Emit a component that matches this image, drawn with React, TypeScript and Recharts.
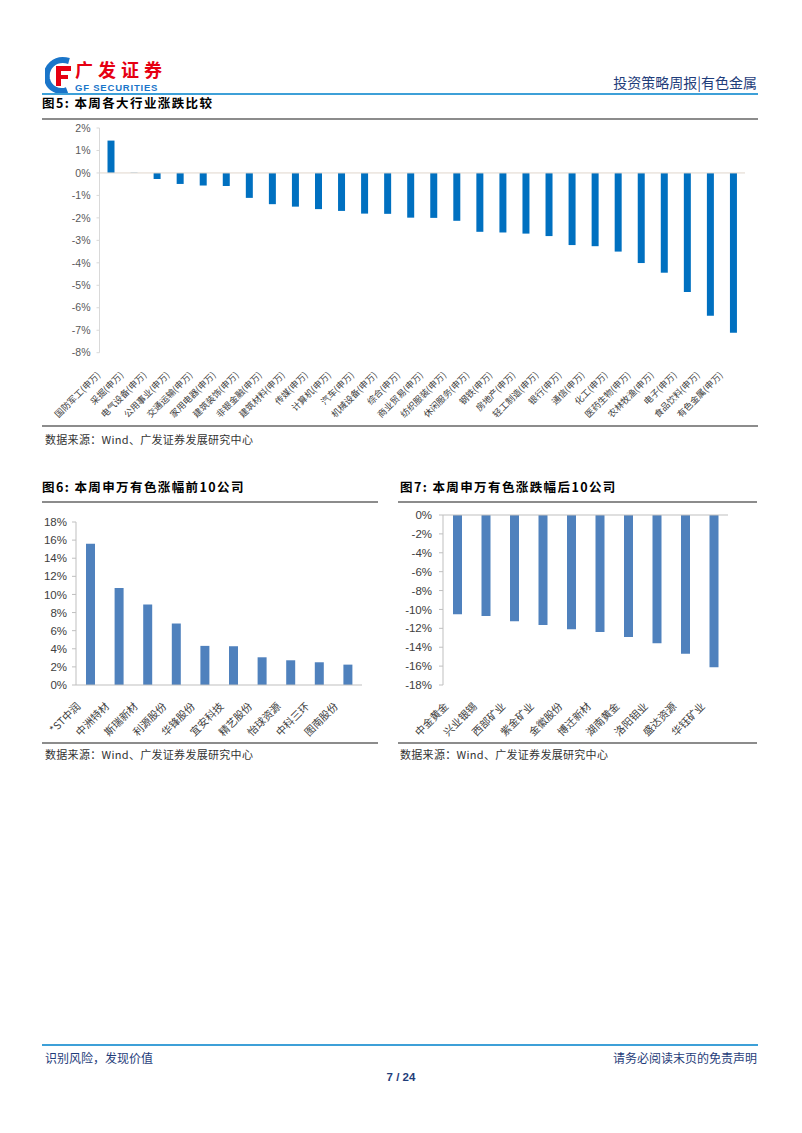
import React from "react";
import { BarChart, Bar, XAxis, YAxis, ReferenceLine } from "recharts";

// 图5 本周各大行业涨跌比较 (%)
const industryNames = [
  "国防军工", "采掘", "电气设备", "公用事业", "交通运输", "家用电器", "建筑装饰",
  "非银金融", "建筑材料", "传媒", "计算机", "汽车", "机械设备", "综合",
  "商业贸易", "纺织服装", "休闲服务", "钢铁", "房地产", "轻工制造", "银行",
  "通信", "化工", "医药生物", "农林牧渔", "电子", "食品饮料", "有色金属",
];
const industryChange = [
  1.44, 0.01, -0.27, -0.49, -0.56, -0.58, -1.11, -1.39, -1.5, -1.61, -1.69, -1.81,
  -1.82, -1.99, -2.0, -2.13, -2.62, -2.65, -2.7, -2.81, -3.21, -3.26, -3.5, -4.01,
  -4.44, -5.3, -6.36, -7.11,
];
const industryTicks = [-8, -7, -6, -5, -4, -3, -2, -1, 0, 1, 2];

// 图6 涨幅前10
const topNames = [
  "*ST中润", "中洲特材", "斯瑞新材", "利源股份", "华锋股份",
  "宜安科技", "精艺股份", "怡球资源", "中科三环", "图南股份",
];
const topChange = [15.6, 10.7, 8.89, 6.79, 4.32, 4.28, 3.06, 2.73, 2.51, 2.25];
const topTicks = [0, 2, 4, 6, 8, 10, 12, 14, 16, 18];

// 图7 跌幅后10
const bottomNames = [
  "中金黄金", "兴业银锡", "西部矿业", "紫金矿业", "金徽股份",
  "博迁新材", "湖南黄金", "洛阳钼业", "盛达资源", "华钰矿业",
];
const bottomChange = [-10.52, -10.7, -11.26, -11.65, -12.11, -12.39, -12.92, -13.59, -14.68, -16.13];
const bottomTicks = [-18, -16, -14, -12, -10, -8, -6, -4, -2, 0];

const industryData = industryNames.map((n, i) => ({ name: `${n}(申万)`, value: industryChange[i] }));
const topData = topNames.map((n, i) => ({ name: n, value: topChange[i] }));
const bottomData = bottomNames.map((n, i) => ({ name: n, value: bottomChange[i] }));

const CJK = '"Noto Sans CJK SC", "Noto Sans", sans-serif';
const ARIAL = '"Liberation Sans", Arial, sans-serif';
const pct = (v: number) => `${v}%`;

function RotTick(props: any) {
  const { x, y, payload, fs, ox, oy } = props;
  return (
    <g transform={`translate(${x + ox},${y + oy})`}>
      <text textAnchor="end" transform="rotate(-45)" fontSize={fs} fill="#404040" fontFamily={CJK}>
        {payload.value}
      </text>
    </g>
  );
}

const hr = (left: number, top: number, width: number, color = "#8c8c8c", h = 1.5) => (
  <div style={{ position: "absolute", left, top, width, height: h, background: color }} />
);

const txt = (left: number, top: number, s: string, style: React.CSSProperties = {}) => (
  <div style={{ position: "absolute", left, top, whiteSpace: "nowrap", fontFamily: CJK, ...style }}>{s}</div>
);

const titleStyle: React.CSSProperties = { fontSize: 12.5, fontWeight: 700, color: "#000", letterSpacing: 1.4, lineHeight: "16px" };
const srcStyle: React.CSSProperties = { fontSize: 11, color: "#333", letterSpacing: 0.3, lineHeight: "14px" };

export default function App() {
  return (
    <div style={{ position: "absolute", left: 0, top: 0, width: 802, height: 1133, background: "#fff", overflow: "hidden" }}>
      {/* header */}
      <svg style={{ position: "absolute", left: 45, top: 57 }} width={28} height={36}>
        <path d="M24 4 C10 0 0 10 2 22 C4 32 14 36 22 33" stroke="#1a75c9" strokeWidth={6} fill="none" />
        <rect x={11} y={9} width={15} height={5} fill="#e60012" />
        <rect x={11} y={9} width={5} height={20} fill="#e60012" />
        <rect x={11} y={18} width={12} height={4} fill="#e60012" />
      </svg>
      {txt(75, 60, "广发证券", { fontSize: 18, fontWeight: 700, color: "#e60012", letterSpacing: 5, lineHeight: "19px" })}
      {txt(75, 83, "GF SECURITIES", { fontSize: 9.5, fontWeight: 700, color: "#1a75c9", fontFamily: ARIAL, letterSpacing: 0.8, lineHeight: "10px" })}
      <div style={{ position: "absolute", right: 45, top: 73, fontFamily: CJK, fontSize: 14, color: "#1f3d7a", lineHeight: "18px", whiteSpace: "nowrap" }}>
        投资策略周报|有色金属
      </div>
      {hr(42, 93, 716, "#3da0d8", 2)}

      {/* 图5 */}
      {txt(42, 95, "图5:  本周各大行业涨跌比较", titleStyle)}
      {hr(42, 118, 716)}
      <div style={{ position: "absolute", left: 0, top: 120 }}>
        <BarChart width={802} height={300} data={industryData} margin={{ top: 8, right: 57, left: 49.5, bottom: 0.3 }}>
          <YAxis
            width={50}
            domain={[-8, 2]}
            ticks={industryTicks}
            tickFormatter={pct}
            axisLine={{ stroke: "#d9d9d9" }}
            tickLine={{ stroke: "#d9d9d9" }}
            tickSize={3}
            tickMargin={6}
            tick={{ fontSize: 10.5, fill: "#595959", fontFamily: ARIAL }}
          />
          <XAxis
            dataKey="name"
            height={67}
            interval={0}
            axisLine={false}
            tickLine={false}
            tick={<RotTick fs={9} ox={-10} oy={15} />}
          />
          <ReferenceLine y={0} stroke="#e0d6cc" />
          <Bar dataKey="value" fill="#0070c0" barSize={7} isAnimationActive={false} />
        </BarChart>
      </div>
      {hr(42, 425, 716)}
      {txt(45, 432, "数据来源：Wind、广发证券发展研究中心", srcStyle)}

      {/* 图6 */}
      {txt(42, 479, "图6:  本周申万有色涨幅前10公司", titleStyle)}
      {hr(42, 501, 336)}
      <div style={{ position: "absolute", left: 0, top: 500 }}>
        <BarChart width={400} height={260} data={topData} margin={{ top: 22, right: 38, left: 26, bottom: 0 }}>
          <YAxis
            width={50}
            domain={[0, 18]}
            ticks={topTicks}
            tickFormatter={pct}
            axisLine={{ stroke: "#bfbfbf" }}
            tickLine={{ stroke: "#bfbfbf" }}
            tickSize={4}
            tickMargin={5}
            tick={{ fontSize: 11.5, fill: "#404040", fontFamily: ARIAL }}
          />
          <XAxis
            dataKey="name"
            height={75}
            interval={0}
            axisLine={{ stroke: "#bfbfbf" }}
            tickLine={false}
            tick={<RotTick fs={10.5} ox={-9} oy={14} />}
          />
          <Bar dataKey="value" fill="#4f81bd" barSize={9} isAnimationActive={false} />
        </BarChart>
      </div>
      {hr(42, 742, 336)}
      {txt(45, 747, "数据来源：Wind、广发证券发展研究中心", srcStyle)}

      {/* 图7 */}
      {txt(400, 479, "图7:  本周申万有色涨跌幅后10公司", titleStyle)}
      {hr(398, 501, 359)}
      <div style={{ position: "absolute", left: 400, top: 500 }}>
        <BarChart width={402} height={260} data={bottomData} margin={{ top: 15, right: 74, left: 5, bottom: 0 }}>
          <YAxis
            width={38}
            domain={[-18, 0]}
            ticks={bottomTicks}
            tickFormatter={pct}
            axisLine={{ stroke: "#bfbfbf" }}
            tickLine={{ stroke: "#bfbfbf" }}
            tickSize={4}
            tickMargin={7}
            tick={{ fontSize: 11.5, fill: "#404040", fontFamily: ARIAL }}
          />
          <XAxis
            dataKey="name"
            height={75}
            interval={0}
            axisLine={false}
            tickLine={false}
            tick={<RotTick fs={10.5} ox={-8} oy={14} />}
          />
          <ReferenceLine y={0} stroke="#bfbfbf" />
          <Bar dataKey="value" fill="#4f81bd" barSize={9} isAnimationActive={false} />
        </BarChart>
      </div>
      {hr(398, 742, 359)}
      {txt(400, 747, "数据来源：Wind、广发证券发展研究中心", srcStyle)}

      {/* footer */}
      {hr(42, 1044, 716, "#3da0d8", 2)}
      {txt(45, 1050, "识别风险，发现价值", { fontSize: 12, color: "#1f3d7a", lineHeight: "16px" })}
      <div style={{ position: "absolute", right: 45, top: 1050, fontFamily: CJK, fontSize: 12, color: "#1f3d7a", lineHeight: "16px", whiteSpace: "nowrap" }}>
        请务必阅读末页的免责声明
      </div>
      <div style={{ position: "absolute", left: 0, width: 802, textAlign: "center", top: 1071, fontFamily: ARIAL, fontSize: 11.5, fontWeight: 700, color: "#1f3d7a" }}>
        7 / 24
      </div>
    </div>
  );
}
